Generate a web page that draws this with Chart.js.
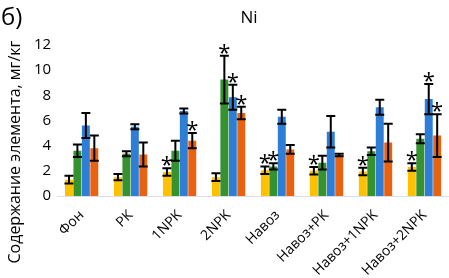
<!DOCTYPE html>
<html><head><meta charset="utf-8">
<script src="https://cdn.jsdelivr.net/npm/chart.js@4/dist/chart.umd.min.js"></script>
<style>html,body{margin:0;padding:0;background:#fff}#w{position:relative;width:449px;height:278px}</style>
</head><body><div id="w"><canvas id="c"></canvas></div>
<script>
const categories = ['Фон','РК','1NPK','2NPK','Навоз','Навоз+РК','Навоз+1NPK','Навоз+2NPK'];
const series1 = [1.3, 1.5, 1.9, 1.5, 2.05, 2.0, 1.95, 2.3];
const err1    = [0.3, 0.25, 0.3, 0.3, 0.3, 0.3, 0.3, 0.3];
const star1   = [0,0,1,0,1,1,1,1];
const series2 = [3.6, 3.35, 3.6, 9.25, 2.35, 2.65, 3.55, 4.55];
const err2    = [0.5, 0.2, 0.8, 1.9, 0.25, 0.55, 0.3, 0.35];
const star2   = [0,0,0,1,1,0,0,0];
const series3 = [5.6, 5.5, 6.75, 7.85, 6.3, 5.1, 7.05, 7.7];
const err3    = [1.0, 0.2, 0.2, 1.0, 0.55, 1.25, 0.6, 1.2];
const star3   = [0,0,0,1,0,0,0,1];
const series4 = [3.8, 3.3, 4.4, 6.6, 3.7, 3.25, 4.25, 4.8];
const err4    = [1.0, 0.95, 0.6, 0.5, 0.35, 0.1, 1.5, 1.7];
const star4   = [0,0,1,1,0,0,0,1];
const yTicks = [0,2,4,6,8,10,12];

const colors = ['#FFC000','#36912F','#2E7DD6','#E8620F'];
const errs = [err1,err2,err3,err4];
const stars = [star1,star2,star3,star4];
const FONT = '"Open Sans", sans-serif';

const errPlugin = {
  id:'err',
  afterDatasetsDraw(chart){
    const ctx = chart.ctx, ys = chart.scales.y;
    chart.data.datasets.forEach((ds,di)=>{
      const meta = chart.getDatasetMeta(di);
      meta.data.forEach((bar,i)=>{
        const v = ds.data[i], e = errs[di][i];
        const x = bar.x;
        const yt = ys.getPixelForValue(v+e), yb = ys.getPixelForValue(v-e);
        ctx.save();
        ctx.strokeStyle = '#000'; ctx.lineWidth = 2;
        ctx.beginPath();
        ctx.moveTo(x,yt); ctx.lineTo(x,yb);
        ctx.moveTo(x-4.5,yt); ctx.lineTo(x+4.5,yt);
        ctx.moveTo(x-4.5,yb); ctx.lineTo(x+4.5,yb);
        ctx.stroke();
        if(stars[di][i]){
          ctx.fillStyle='#000';
          ctx.font = '22px ' + FONT;
          ctx.textAlign='center'; ctx.textBaseline='alphabetic';
          ctx.fillText('*', x, yt+4);
        }
        ctx.restore();
      });
    });
  }
};

new Chart(document.getElementById('c'),{
  type:'bar',
  data:{labels:categories,datasets:[series1,series2,series3,series4].map((d,i)=>({
    label:'s'+(i+1), data:d, backgroundColor:colors[i], borderWidth:0,
    categoryPercentage:0.69, barPercentage:0.94
  }))},
  options:{
    responsive:true, maintainAspectRatio:false, animation:false,
    devicePixelRatio:1,
    layout:{padding:{left:28,right:0,top:45,bottom:0}},
    plugins:{legend:{display:false},tooltip:{enabled:false},
      title:{display:false}},
    scales:{
      x:{grid:{display:false,drawTicks:false},border:{color:'#D9DEE6',width:1},
        afterFit:(s)=>{s.height=82;},
        ticks:{color:'#000',font:{family:FONT,size:14},maxRotation:45,minRotation:45,padding:11}},
      y:{min:0,max:12,afterBuildTicks:(s)=>{s.ticks=yTicks.map(v=>({value:v}));},
        grid:{display:false,drawTicks:false},border:{display:false},
        ticks:{color:'#000',font:{family:FONT,size:15},padding:6}}
    }
  },
  plugins:[errPlugin,{
    id:'txt',
    afterDraw(chart){
      const ctx=chart.ctx; ctx.save(); ctx.fillStyle='#000';
      ctx.font='24px '+FONT; ctx.textAlign='left'; ctx.textBaseline='middle';
      ctx.fillText('б)',1,18);
      ctx.font='17px '+FONT; ctx.textAlign='center';
      ctx.fillText('Ni',249,18);
      ctx.translate(15,152); ctx.rotate(-Math.PI/2);
      ctx.font='16px '+FONT; ctx.textAlign='center'; ctx.textBaseline='middle';
      ctx.fillText('Содержание элемента, мг/кг',0,0);
      ctx.restore();
    }
  }]
});
</script></body></html>
